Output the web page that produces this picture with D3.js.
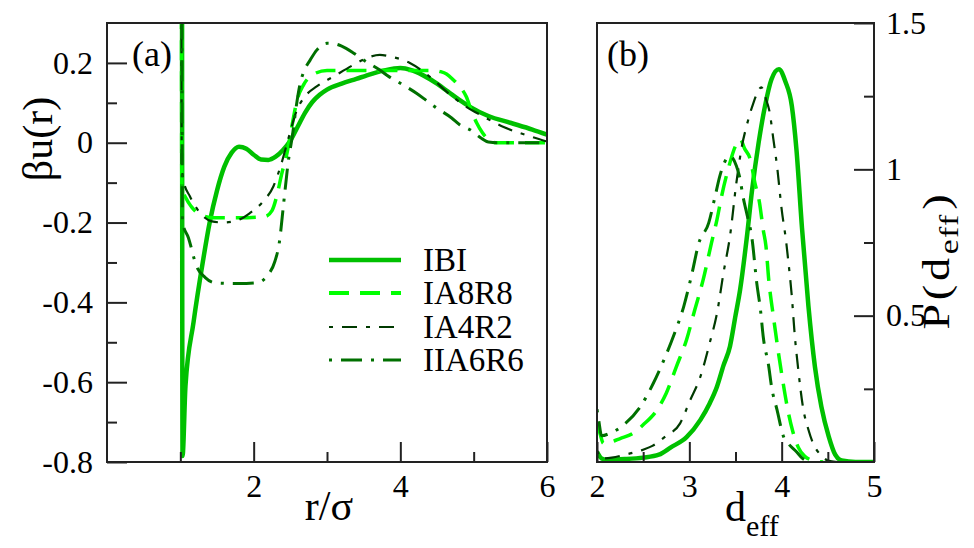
<!DOCTYPE html>
<html><head><meta charset="utf-8">
<script src="https://cdn.jsdelivr.net/npm/d3@7"></script>
<style>
body{margin:0;background:#fff}
svg text{font-family:'Liberation Serif','Tinos','Times New Roman','Times','Nimbus Roman','DejaVu Serif',serif !important;fill:#000}
</style>
</head><body>
<svg id="c" width="974" height="548" xmlns="http://www.w3.org/2000/svg"></svg>
<script>
// ---------- data ----------
const seriesNames = ["IBI", "IA8R8", "IA4R2", "IIA6R6"];

// panel (a): beta u(r) vs r/sigma  [r, value]
const potIBI = [[1.02,1.5],[1.03,-0.785],[1.07,-0.61],[1.18,-0.45],[1.31,-0.295],[1.40,-0.2],[1.50,-0.12],[1.60,-0.06],[1.70,-0.025],[1.80,-0.01],[1.90,-0.015],[2.00,-0.03],[2.10,-0.042],[2.20,-0.043],[2.30,-0.035],[2.40,-0.018],[2.50,0.005],[2.60,0.04],[2.70,0.075],[2.80,0.102],[2.90,0.12],[3.00,0.133],[3.20,0.148],[3.40,0.16],[3.60,0.172],[3.80,0.182],[4.00,0.187],[4.15,0.182],[4.30,0.17],[4.50,0.148],[4.65,0.128],[4.80,0.108],[4.95,0.09],[5.20,0.067],[5.50,0.05],[5.80,0.033],[6.00,0.02]];
const potIA8R8 = [[1.01,1.5],[1.02,-0.11],[1.08,-0.14],[1.15,-0.16],[1.27,-0.18],[1.45,-0.188],[1.80,-0.188],[2.15,-0.185],[2.25,-0.17],[2.32,-0.13],[2.38,-0.08],[2.45,-0.03],[2.52,0.04],[2.59,0.105],[2.68,0.145],[2.80,0.17],[3.00,0.181],[3.50,0.181],[4.00,0.181],[4.45,0.181],[4.55,0.178],[4.63,0.172],[4.72,0.158],[4.80,0.143],[4.90,0.115],[4.97,0.08],[5.04,0.05],[5.12,0.025],[5.20,0.008],[5.30,0.0],[6.00,0.0]];
const potIA4R2 = [[1.01,1.5],[1.02,-0.06],[1.05,-0.1],[1.13,-0.134],[1.27,-0.176],[1.43,-0.197],[1.59,-0.2],[1.81,-0.192],[1.95,-0.176],[2.13,-0.147],[2.27,-0.109],[2.38,-0.051],[2.47,0.008],[2.59,0.082],[2.70,0.116],[2.86,0.141],[3.09,0.166],[3.36,0.195],[3.54,0.212],[3.72,0.22],[3.86,0.216],[4.13,0.2],[4.45,0.158],[4.63,0.128],[4.90,0.09],[5.13,0.066],[5.40,0.04],[5.77,0.016],[6.00,0.003]];
const potIIA6R6 = [[1.01,1.5],[1.03,-0.2],[1.11,-0.238],[1.22,-0.309],[1.34,-0.338],[1.47,-0.351],[1.80,-0.353],[2.04,-0.351],[2.20,-0.33],[2.29,-0.297],[2.35,-0.25],[2.41,-0.15],[2.47,-0.05],[2.53,0.02],[2.58,0.09],[2.63,0.145],[2.70,0.185],[2.77,0.207],[2.86,0.232],[3.00,0.249],[3.10,0.248],[3.20,0.242],[3.36,0.225],[3.50,0.207],[3.72,0.182],[3.85,0.165],[4.00,0.149],[4.22,0.124],[4.34,0.108],[4.47,0.09],[4.70,0.062],[4.81,0.045],[4.95,0.0325],[5.10,0.012],[5.20,0.002],[5.34,0.0],[6.00,0.0]];

// panel (b): P(d_eff) vs d_eff  [d, P]
const pdfIBI = [[2.00,0.035],[2.05,0.012],[2.10,0.008],[2.30,0.01],[2.50,0.015],[2.67,0.025],[2.80,0.05],[2.97,0.085],[3.12,0.144],[3.22,0.2],[3.30,0.258],[3.37,0.33],[3.44,0.395],[3.50,0.5],[3.55,0.589],[3.62,0.76],[3.68,0.93],[3.75,1.09],[3.82,1.217],[3.89,1.308],[3.97,1.342],[4.04,1.30],[4.11,1.217],[4.16,1.068],[4.22,0.80],[4.29,0.532],[4.36,0.326],[4.43,0.189],[4.51,0.087],[4.58,0.025],[4.65,0.005],[4.80,0.0],[5.00,0.0]];
const pdfIA8R8 = [[2.00,0.13],[2.03,0.1],[2.07,0.064],[2.15,0.068],[2.25,0.08],[2.39,0.098],[2.50,0.127],[2.65,0.178],[2.75,0.235],[2.86,0.326],[2.97,0.418],[3.06,0.521],[3.15,0.623],[3.24,0.749],[3.30,0.829],[3.35,0.909],[3.42,1.0],[3.50,1.08],[3.55,1.103],[3.60,1.07],[3.66,1.034],[3.71,0.954],[3.76,0.886],[3.80,0.794],[3.83,0.737],[3.86,0.623],[3.91,0.498],[3.96,0.384],[4.01,0.281],[4.06,0.189],[4.12,0.105],[4.18,0.05],[4.25,0.02],[4.34,0.005],[4.45,0.0]];
const pdfIA4R2 = [[2.00,0.04],[2.05,0.012],[2.16,0.015],[2.33,0.027],[2.50,0.042],[2.60,0.055],[2.74,0.087],[2.90,0.132],[3.01,0.212],[3.12,0.292],[3.22,0.406],[3.30,0.509],[3.37,0.646],[3.44,0.771],[3.51,0.955],[3.57,1.08],[3.62,1.148],[3.69,1.223],[3.78,1.28],[3.83,1.24],[3.87,1.195],[3.91,1.103],[3.95,1.011],[4.00,0.863],[4.05,0.749],[4.07,0.692],[4.11,0.566],[4.14,0.44],[4.18,0.315],[4.23,0.189],[4.29,0.11],[4.34,0.064],[4.42,0.025],[4.50,0.005],[4.60,0.0]];
const pdfIIA6R6 = [[2.00,0.18],[2.02,0.14],[2.05,0.09],[2.14,0.098],[2.29,0.127],[2.47,0.189],[2.61,0.269],[2.74,0.36],[2.84,0.44],[2.94,0.532],[3.03,0.646],[3.10,0.745],[3.21,0.817],[3.28,0.909],[3.33,0.977],[3.44,1.045],[3.51,1.011],[3.55,0.966],[3.58,0.909],[3.62,0.852],[3.68,0.76],[3.73,0.612],[3.77,0.521],[3.80,0.429],[3.86,0.326],[3.89,0.258],[3.95,0.178],[4.02,0.087],[4.08,0.06],[4.16,0.035],[4.22,0.014],[4.30,0.0]];

// ticks
const aXMajor = [2, 4, 6], aXMinor = [1, 3, 5];
const aYMajor = [-0.8, -0.6, -0.4, -0.2, 0, 0.2], aYMinor = [-0.7, -0.5, -0.3, -0.1, 0.1];
const bXMajor = [2, 3, 4, 5], bXMinor = [2.5, 3.5, 4.5];
const bYMajor = [0.5, 1, 1.5], bYMinor = [0.25, 0.75, 1.25];

// ---------- styles ----------
const FONT = "'Liberation Serif','Tinos','Times New Roman','Times','Nimbus Roman','DejaVu Serif',serif";
const styles = [
  {color:"#00c000", width:4.5, dash:null},
  {color:"#00ff00", width:3.5, dash:"20,11"},
  {color:"#003a00", width:2.2, dash:"4,9,15,9"},
  {color:"#007000", width:3, dash:"3,9,21,9"}
];

const svg = d3.select("#c");
const axisColor = "#222";

const A = {x0:107, x1:547, y0:23, y1:462};
const B = {x0:597, x1:874, y0:23, y1:462};

const xa = d3.scaleLinear().domain([0, 6]).range([A.x0, A.x1]);
const ya = d3.scaleLinear().domain([-0.8, 0.3]).range([A.y1, A.y0]);
const xb = d3.scaleLinear().domain([2, 5]).range([B.x0, B.x1]);
const yb = d3.scaleLinear().domain([0, 1.5]).range([B.y1, B.y0]);

const defs = svg.append("defs");
defs.append("clipPath").attr("id","clipA").append("rect")
  .attr("x",A.x0).attr("y",A.y0).attr("width",A.x1-A.x0).attr("height",A.y1-A.y0);
defs.append("clipPath").attr("id","clipB").append("rect")
  .attr("x",B.x0).attr("y",B.y0).attr("width",B.x1-B.x0).attr("height",B.y1-B.y0);

function drawLines(sets, xs, ys, clip) {
  const g = svg.append("g").attr("clip-path", `url(#${clip})`);
  const line = d3.line().x(d => xs(d[0])).y(d => ys(d[1])).curve(d3.curveMonotoneX);
  sets.forEach((s, i) => {
    const st = styles[i];
    g.append("path").datum(s).attr("d", line)
      .attr("fill","none").attr("stroke", st.color).attr("stroke-width", st.width)
      .attr("stroke-linejoin","round")
      .attr("stroke-dasharray", st.dash);
  });
}

drawLines([potIBI, potIA8R8, potIA4R2, potIIA6R6], xa, ya, "clipA");
drawLines([pdfIBI, pdfIA8R8, pdfIA4R2, pdfIIA6R6], xb, yb, "clipB");

function styleAxis(g, fs) {
  g.attr("font-family", FONT);
  g.select(".domain").remove();
  g.selectAll(".tick line").attr("stroke", axisColor).attr("stroke-width", 2);
  g.selectAll(".tick text").attr("font-family", FONT)
    .attr("font-size", fs).attr("fill", "#000");
}

const fmtA = d => d === 0 ? "0" : d3.format(".1f")(d).replace("−", "-");
const fmtB = d => String(d);

// panel a axes
styleAxis(svg.append("g").attr("transform",`translate(0,${A.y1})`)
  .call(d3.axisBottom(xa).tickValues(aXMajor).tickSize(-20).tickPadding(12).tickFormat(d=>String(d))), 32);
styleAxis(svg.append("g").attr("transform",`translate(0,${A.y1})`)
  .call(d3.axisBottom(xa).tickValues(aXMinor).tickSize(-10).tickFormat("")), 32);
styleAxis(svg.append("g").attr("transform",`translate(${A.x0},0)`)
  .call(d3.axisLeft(ya).tickValues(aYMajor).tickSize(-20).tickPadding(14).tickFormat(fmtA)), 32);
styleAxis(svg.append("g").attr("transform",`translate(${A.x0},0)`)
  .call(d3.axisLeft(ya).tickValues(aYMinor).tickSize(-10).tickFormat("")), 32);

// panel b axes
styleAxis(svg.append("g").attr("transform",`translate(0,${B.y1})`)
  .call(d3.axisBottom(xb).tickValues(bXMajor).tickSize(-20).tickPadding(12).tickFormat(fmtB)), 32);
styleAxis(svg.append("g").attr("transform",`translate(0,${B.y1})`)
  .call(d3.axisBottom(xb).tickValues(bXMinor).tickSize(-10).tickFormat("")), 32);
styleAxis(svg.append("g").attr("transform",`translate(${B.x1},0)`)
  .call(d3.axisRight(yb).tickValues(bYMajor).tickSize(-20).tickPadding(12).tickFormat(fmtB)), 32);
styleAxis(svg.append("g").attr("transform",`translate(${B.x1},0)`)
  .call(d3.axisRight(yb).tickValues(bYMinor).tickSize(-10).tickFormat("")), 32);

// frames
[A, B].forEach(P => {
  svg.append("rect").attr("x",P.x0).attr("y",P.y0).attr("width",P.x1-P.x0).attr("height",P.y1-P.y0)
    .attr("fill","none").attr("stroke",axisColor).attr("stroke-width",2);
});

function txt(x, y, fs) {
  return svg.append("text").attr("x",x).attr("y",y).attr("font-size",fs).attr("font-family",FONT);
}

// panel labels
txt(132, 66, 36).text("(a)");
txt(607, 66, 36).text("(b)");

// axis titles
txt(329, 520, 42).attr("text-anchor","middle").text("r/σ");
const dt = txt(725, 521, 42);
dt.append("tspan").text("d");
dt.append("tspan").attr("font-size",30).attr("dy",15).text("eff");

svg.append("text").attr("font-family",FONT).attr("transform","translate(52,139) rotate(-90)")
  .attr("text-anchor","middle").attr("font-size",42).text("βu(r)");
const pt = svg.append("text").attr("font-family",FONT)
  .attr("transform","translate(949,262) rotate(-90) scale(1.25,1)")
  .attr("text-anchor","middle").attr("font-size",37);
pt.append("tspan").attr("letter-spacing",3).text("P(d");
pt.append("tspan").attr("font-size",27).attr("dy",9).attr("letter-spacing",1).text("eff");
pt.append("tspan").attr("dy",-9).attr("dx",3).text(")");

// legend
const legY = [260, 293, 327, 360];
const legW = [4.5, 4, 2, 3];
seriesNames.forEach((n, i) => {
  const st = styles[i];
  svg.append("line").attr("x1",329).attr("x2",401).attr("y1",legY[i]).attr("y2",legY[i])
    .attr("stroke",st.color).attr("stroke-width", legW[i])
    .attr("stroke-dasharray", st.dash);
  txt(423, legY[i]+11, 33).text(n);
});
</script>
</body></html>
